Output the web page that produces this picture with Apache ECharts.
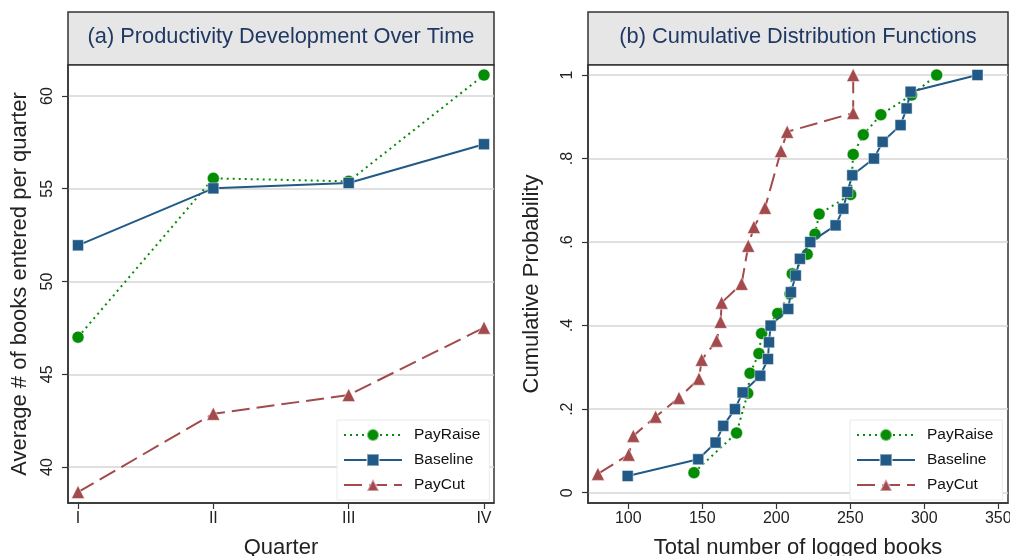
<!DOCTYPE html>
<html>
<head>
<meta charset="utf-8">
<script src="https://cdn.jsdelivr.net/npm/echarts@6/dist/echarts.min.js"></script>
<style>
  html, body { margin: 0; padding: 0; background: #fff; }
  #chart { width: 1010px; height: 556px; }
</style>
</head>
<body>
<div id="chart"></div>
<script>
// panel (a): average books per quarter
const quarters = ['I', 'II', 'III', 'IV'];
const quarterPos = [1, 2, 3, 4];
const payRaiseQ = [47.0, 55.56, 55.4, 61.13];
const baselineQ = [51.95, 55.02, 55.31, 57.4];
const payCutQ = [38.65, 42.87, 43.88, 47.51];
const prodTicks = [40, 45, 50, 55, 60];

// panel (b): cumulative distribution of total logged books
const payRaiseBooks = [144.4, 173.2, 180.7, 182.3, 188.3, 190.1, 201, 209.3, 210.8, 220.9, 226.2, 229, 250.3, 252, 258.8, 270.7, 291.5, 308.4];
const payRaiseProb = [0.048, 0.143, 0.238, 0.286, 0.333, 0.381, 0.429, 0.476, 0.524, 0.571, 0.619, 0.667, 0.714, 0.810, 0.857, 0.905, 0.952, 1.0];
const baselineBooks = [99.6, 147.3, 159, 164.2, 172.1, 177.3, 189.2, 194.4, 195.1, 196.2, 208.1, 209.9, 213.2, 216, 223, 240.1, 245.3, 248, 251.4, 266, 271.9, 284, 288.1, 290.8, 336];
const baselineProb = [0.04, 0.08, 0.12, 0.16, 0.2, 0.24, 0.28, 0.32, 0.36, 0.4, 0.44, 0.48, 0.52, 0.56, 0.6, 0.64, 0.68, 0.72, 0.76, 0.8, 0.84, 0.88, 0.92, 0.96, 1.0];
const payCutBooks = [79.5, 100.3, 103.4, 118.5, 134.3, 147.8, 149.6, 159.7, 162.4, 163.1, 176.6, 181.1, 184.9, 192.4, 203.2, 207.4, 252, 252];
const payCutProb = [0.045, 0.091, 0.136, 0.182, 0.227, 0.273, 0.318, 0.364, 0.409, 0.455, 0.5, 0.591, 0.636, 0.682, 0.818, 0.864, 0.909, 1.0];
const cdfTicks = [0, 0.2, 0.4, 0.6, 0.8, 1];
const bookTicks = [100, 150, 200, 250, 300, 350];

const GREEN = '#058c05';
const BLUE = '#215a86';
const RED = '#a34a4c';
const FONT = '"Liberation Sans", Arial, sans-serif';

const zip = (xs, ys) => xs.map((x, i) => [x, ys[i]]);

const chart = echarts.init(document.getElementById('chart'), null, { renderer: 'canvas' });

const valueAxisCommon = {
  type: 'value',
  axisLine: { show: true, onZero: false, lineStyle: { color: '#333', width: 1.5 } },
  axisTick: { show: true, length: 6, lineStyle: { color: '#333', width: 1.2 } },
  axisLabel: { color: '#222', fontSize: 16, fontFamily: FONT },
  nameTextStyle: { color: '#222', fontSize: 22, fontFamily: FONT },
  nameLocation: 'middle',
};

const gridLines = { show: true, lineStyle: { color: '#d6d6d6', width: 1.5 } };

function legendAt(left) {
  return {
    orient: 'vertical',
    left: left,
    top: 420,
    itemWidth: 58,
    itemHeight: 15,
    itemGap: 9,
    padding: [7, 9, 7, 6],
    backgroundColor: '#fff',
    borderColor: '#e4ecee',
    borderWidth: 1,
    data: ['PayRaise', 'Baseline', 'PayCut'],
    textStyle: { color: '#111', fontSize: 15.5, fontFamily: FONT, padding: [0, 0, 0, 7] },
  };
}

function makeSeries(name, data, g, style) {
  return {
    name: name,
    type: 'line',
    xAxisIndex: g,
    yAxisIndex: g,
    data: data,
    symbol: style.symbol,
    symbolSize: style.size,
    showAllSymbol: true,
    lineStyle: { color: style.color, width: 2, type: style.dash },
    itemStyle: { color: style.color, borderColor: 'rgba(255,255,255,0.45)', borderWidth: 1 },
    emphasis: { disabled: true },
    animation: false,
    z: style.z,
  };
}

const raiseStyle = { symbol: 'circle', size: 12, color: GREEN, dash: [2, 4], z: 3 };
const baseStyle = { symbol: 'rect', size: 11, color: BLUE, dash: 'solid', z: 4 };
const cutStyle = { symbol: 'triangle', size: 13, color: RED, dash: [18, 7], z: 2 };

const option = {
  animation: false,
  textStyle: { fontFamily: FONT },
  graphic: [
    { type: 'rect', shape: { x: 68, y: 12, width: 426, height: 53 }, style: { fill: '#e6e6e6', stroke: '#333', lineWidth: 1.5 }, z: -1 },
    { type: 'rect', shape: { x: 588, y: 12, width: 420, height: 53 }, style: { fill: '#e6e6e6', stroke: '#333', lineWidth: 1.5 }, z: -1 },
  ],
  title: [
    { text: '(a) Productivity Development Over Time', left: 276, top: 32, textAlign: 'center', textVerticalAlign: 'middle',
      textStyle: { color: '#1f3864', fontSize: 21.8, fontWeight: 'normal', fontFamily: FONT } },
    { text: '(b) Cumulative Distribution Functions', left: 793, top: 32, textAlign: 'center', textVerticalAlign: 'middle',
      textStyle: { color: '#1f3864', fontSize: 21.8, fontWeight: 'normal', fontFamily: FONT } },
  ],
  legend: [legendAt(337), legendAt(850)],
  grid: [
    { left: 68, top: 65, width: 426, height: 438, show: true, borderColor: '#333', borderWidth: 1.5, backgroundColor: '#fff', outerBoundsMode: 'none', containLabel: false },
    { left: 588, top: 65, width: 420, height: 438, show: true, borderColor: '#333', borderWidth: 1.5, backgroundColor: '#fff', outerBoundsMode: 'none', containLabel: false },
  ],
  xAxis: [
    Object.assign({}, valueAxisCommon, {
      gridIndex: 0, min: 0.926, max: 4.074,
      name: 'Quarter', nameGap: 34,
      splitLine: { show: false },
      axisTick: Object.assign({}, valueAxisCommon.axisTick, { customValues: quarterPos }),
      axisLabel: Object.assign({}, valueAxisCommon.axisLabel, {
        customValues: quarterPos, margin: 8,
        formatter: (v) => quarters[quarterPos.indexOf(v)] || '',
      }),
    }),
    Object.assign({}, valueAxisCommon, {
      gridIndex: 1, min: 72.8, max: 356.6,
      name: 'Total number of logged books', nameGap: 34,
      splitLine: { show: false },
      axisTick: Object.assign({}, valueAxisCommon.axisTick, { customValues: bookTicks }),
      axisLabel: Object.assign({}, valueAxisCommon.axisLabel, { customValues: bookTicks, margin: 8 }),
    }),
  ],
  yAxis: [
    Object.assign({}, valueAxisCommon, {
      gridIndex: 0, min: 38.06, max: 61.67,
      name: 'Average # of books entered per quarter', nameGap: 37,
      splitLine: gridLines,
      axisTick: Object.assign({}, valueAxisCommon.axisTick, { customValues: prodTicks }),
      axisLabel: Object.assign({}, valueAxisCommon.axisLabel, { customValues: prodTicks, rotate: 90, margin: 12 }),
    }),
    Object.assign({}, valueAxisCommon, {
      gridIndex: 1, min: -0.0247, max: 1.024,
      name: 'Cumulative Probability', nameGap: 45,
      splitLine: gridLines,
      axisTick: Object.assign({}, valueAxisCommon.axisTick, { customValues: cdfTicks }),
      axisLabel: Object.assign({}, valueAxisCommon.axisLabel, {
        customValues: cdfTicks, rotate: 90, margin: 12,
        formatter: (v) => (v === 0 || v === 1) ? String(v) : String(v).replace(/^0/, ''),
      }),
    }),
  ],
  series: [
    makeSeries('PayRaise', zip(quarterPos, payRaiseQ), 0, raiseStyle),
    makeSeries('Baseline', zip(quarterPos, baselineQ), 0, baseStyle),
    makeSeries('PayCut', zip(quarterPos, payCutQ), 0, cutStyle),
    makeSeries('PayRaise', zip(payRaiseBooks, payRaiseProb), 1, raiseStyle),
    makeSeries('Baseline', zip(baselineBooks, baselineProb), 1, baseStyle),
    makeSeries('PayCut', zip(payCutBooks, payCutProb), 1, cutStyle),
  ],
};

chart.setOption(option);
</script>
</body>
</html>
